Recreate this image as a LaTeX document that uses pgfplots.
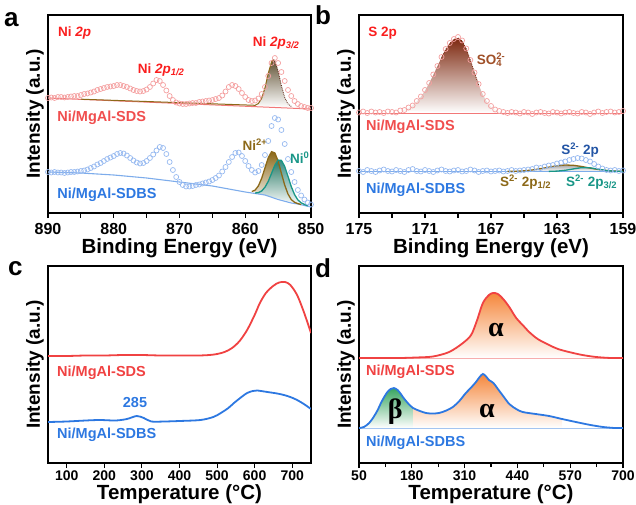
\documentclass[border=0pt]{standalone}
\usepackage{fontspec}
\setmainfont{Liberation Sans}
\newfontfamily\grfont{Liberation Serif}
\usepackage{pgfplots}
\pgfplotsset{compat=1.18}

\definecolor{sdsred}{RGB}{240,66,66}
\definecolor{sdslab}{RGB}{240,78,78}
\definecolor{nired}{RGB}{250,30,30}
\definecolor{sdsdot}{RGB}{244,160,160}
\definecolor{sdsbase}{RGB}{242,120,120}
\definecolor{sdbsblue}{RGB}{45,120,225}
\definecolor{sdbsdot}{RGB}{150,185,240}
\definecolor{sdbsbase}{RGB}{125,172,235}
\definecolor{olivec}{RGB}{140,105,25}
\definecolor{tealc}{RGB}{25,150,135}
\definecolor{darkbl}{RGB}{35,85,165}
\definecolor{so4}{RGB}{160,80,40}
\definecolor{so4fill}{RGB}{125,40,15}
\definecolor{nifill}{RGB}{95,80,50}
\definecolor{orfill}{RGB}{245,135,60}
\definecolor{grfill}{RGB}{55,165,95}

\newcommand{\fs}[1]{\bfseries\fontsize{#1}{#1}\selectfont}
\tikzset{lbl/.style={font=\fs{13.5}, inner sep=0pt}}

\pgfplotsset{
  panel/.style={
    scale only axis, ymin=0,
    axis line style={line width=1.3pt},
    ytick=\empty, xtick pos=left, xtick align=outside,
    major tick length=5pt, minor tick length=4pt,
    xtick style={draw=black, line width=1.1pt},
    minor x tick style={draw=black, line width=1.1pt},
    /pgf/number format/assume math mode=true,
    ylabel={Intensity (a.u.)},
    ylabel style={font=\fs{19}, inner sep=0pt, at={(axis description cs:-0.015,0.5)}, anchor=south},
    xlabel style={font=\fs{20.5}, at={(axis description cs:0.5,0)}, anchor=base},
  },
  % tick marks along the lower axis line
  tickrow/.style 2 args={after end axis/.append code={
    \foreach \t in {#1}{\draw[black, line width=1.1pt] (axis cs:\t,0) -- ++(0pt,-#2);}}},
}

\begin{document}
\begin{tikzpicture}
\path[use as bounding box] (0,0) rectangle (636pt,-505pt);

% ---------------- a : Ni 2p ----------------
\begin{axis}[panel, at={(48pt,-213pt)}, anchor=south west,
  width=263pt, height=198pt, ymax=198,
  xmin=850, xmax=890, x dir=reverse,
  xtick={850,860,870,880,890}, minor x tick num=1,
  tickrow={850,855,...,890}{5pt},
  xticklabel style={font=\fs{16}, anchor=base, yshift=-16pt},
  xlabel style={yshift=-40pt},
  xlabel={Binding Energy (eV)}]
% SDS fitted component
\addplot[draw=none, top color=nifill, bottom color=white] coordinates {
(858.5,107.7) (858,109.5) (857.5,114.7) (857,125.1) (856.5,139.6) (856,151.2) (855.7,153.4)
(855.5,152.4) (855,142) (854.5,127.2) (854,115.4) (853.5,109.1) (853,106.6) (852.5,105.6)} -- cycle;
\addplot[only marks, mark=o, mark size=2.5pt, color=sdsdot, mark options={line width=0.7pt}] coordinates {
(890,115) (889.5,115.5) (889,115) (888.5,116) (888,116) (887.5,115.5) (887,116) (886.5,116.5)
(886,117) (885.5,117) (885,118) (884.5,119) (884,119.5) (883.5,120.5) (883,121.5) (882.5,123)
(882,124) (881.5,125) (881,126) (880.5,126.5) (880,127) (879.5,128) (879,128) (878.5,127)
(878,126) (877.5,124.5) (877,123) (876.5,122) (876,121.5) (875.5,122) (875,123.5) (874.5,126)
(874,129.5) (873.5,133) (873,132) (872.5,128) (872,122.5) (871.5,117) (871,113) (870.5,110.5)
(870,109.5) (869.5,109) (869,109) (868.5,109.5) (868,110) (867.5,110) (867,111) (866.5,111.5)
(866,112) (865.5,112.5) (865,113) (864.5,114) (864,115) (863.5,117.5) (863,121.5) (862.5,126)
(862,128) (861.5,127) (861,124) (860.5,120) (860,116) (859.5,113) (859,112) (858.5,112.5)
(858,114.5) (857.5,119) (857,126) (856.5,137) (856,150) (855.5,155) (855,150) (854.5,141)
(854,132) (853.5,123) (853,117) (852.5,112) (852,109) (851.5,107) (851,106) (850.5,105) (850,105)};
\addplot[sdsbase, line width=1pt] coordinates {(890,115) (850,104)};
\addplot[olivec, line width=1pt] coordinates {(885,113.8) (858.5,107.7) (858,109.5) (857.5,114.7) (857,125.1) (856.5,139.6) (856,151.2) (855.7,153.4)};
\addplot[so4fill!70!black, line width=0.8pt, densely dotted] coordinates {(855.7,153.4) (855.5,152.4) (855,142) (854.5,127.2) (854,115.4) (853.5,109.1) (853,106.6)};
% SDBS fitted components
\addplot[draw=none, top color=olivec, bottom color=white] coordinates {
(859,21.5) (858.5,22.9) (858,27.1) (857.5,34.7) (857,45.1) (856.5,55.2) (856,61.25) (855.5,60.1)
(855,51.8) (854.5,39.7) (854,28) (853.5,19) (853,13.4) (852.5,10.7) (852,9.4) (851.5,8.5)} -- cycle;
\addplot[draw=none, top color=tealc!80!black, bottom color=white, fill opacity=0.85] coordinates {
(858.5,20) (858,20.4) (857.5,22) (857,25.8) (856.5,31.6) (856,39.7) (855.5,47.8) (855,52.9)
(854.5,52.6) (854,46.6) (853.5,36.7) (853,26.4) (852.5,18.4) (852,13.1) (851.5,10.2) (851,8.6) (850.5,7.1)} -- cycle;
\addplot[only marks, mark=o, mark size=2.5pt, color=sdbsdot, mark options={line width=0.7pt}] coordinates {
(890,41) (889.5,40.5) (889,41) (888.5,40.5) (888,40.5) (887.5,40) (887,40.5) (886.5,41)
(886,41) (885.5,41.5) (885,42) (884.5,42.5) (884,43.5) (883.5,45) (883,46.5) (882.5,48.5)
(882,50) (881.5,52) (881,54) (880.5,55.5) (880,57) (879.5,59) (879,60) (878.5,59.5)
(878,57.5) (877.5,55) (877,52.5) (876.5,50.5) (876,49.5) (875.5,50) (875,52) (874.5,55)
(874,58.5) (873.5,62.5) (873,66) (872.5,65) (872,59) (871.5,51) (871,43) (870.5,36)
(870,31) (869.5,28) (869,26.5) (868.5,26.5) (868,27) (867.5,28) (867,28.5) (866.5,29.5)
(866,30.5) (865.5,31.5) (865,33) (864.5,35) (864,37.5) (863.5,41.5) (863,46) (862.5,51)
(862,56) (861.5,60) (861,60.5) (860.5,57) (860,52) (859.5,47) (859,43) (858.5,40.5)
(858,42) (857.5,48) (857,58) (856.5,72) (856,87) (855.5,95) (855,93.5) (854.5,83)
(854,69) (853.5,54) (853,41) (852.5,31) (852,23) (851.5,17.5) (851,13.5) (850.5,10.5) (850,8.5)};
\addplot[sdbsbase, line width=1.1pt] coordinates {
(890,41) (885,40) (880,38) (875,35) (870,31) (865,27) (860,21) (857,18) (855,13.5) (853,10) (852,9) (850,6)};
\addplot[olivec, line width=1.3pt] coordinates {
(859,21.5) (858.5,22.9) (858,27.1) (857.5,34.7) (857,45.1) (856.5,55.2) (856,61.25) (855.5,60.1)
(855,51.8) (854.5,39.7) (854,28) (853.5,19) (853,13.4) (852.5,10.7) (852,9.4) (851.5,8.5)};
\addplot[tealc, line width=1.3pt] coordinates {
(858.5,20) (858,20.4) (857.5,22) (857,25.8) (856.5,31.6) (856,39.7) (855.5,47.8) (855,52.9)
(854.5,52.6) (854,46.6) (853.5,36.7) (853,26.4) (852.5,18.4) (852,13.1) (851.5,10.2) (851,8.6) (850.5,7.1)};
\node[lbl, nired, anchor=west] at (axis cs:888.5,180) {Ni {\itshape 2p}};
\node[lbl, nired] at (axis cs:872.8,143) {Ni {\itshape 2p}\textsubscript{\itshape 1/2}};
\node[lbl, nired] at (axis cs:855.3,170) {Ni {\itshape 2p}\textsubscript{\itshape 3/2}};
\node[lbl, sdslab, anchor=west, font=\fs{14.5}] at (axis cs:888.6,95) {Ni/MgAl-SDS};
\node[lbl, sdbsblue, anchor=west, font=\fs{14.5}] at (axis cs:888.6,18) {Ni/MgAl-SDBS};
\node[lbl, olivec] at (axis cs:858.5,68) {Ni\textsuperscript{2+}};
\node[lbl, tealc] at (axis cs:851.7,55) {Ni\textsuperscript{0}};
\end{axis}

% ---------------- b : S 2p ----------------
\begin{axis}[panel, at={(359pt,-213pt)}, anchor=south west,
  width=264pt, height=198pt, ymax=198,
  xmin=159, xmax=175, x dir=reverse,
  xtick={159,163,167,171,175}, minor x tick num=1,
  tickrow={159,161,...,175}{5pt},
  xticklabel style={font=\fs{16}, anchor=base, yshift=-16pt},
  xlabel style={yshift=-40pt},
  xlabel={Binding Energy (eV)}]
\addplot[draw=none, top color=so4fill, bottom color=white] coordinates {
(172.5,101.8) (172.25,103.1) (172,104.9) (171.75,107.6) (171.5,111.3) (171.25,116.2) (171,122.3)
(170.75,129.6) (170.5,138) (170.25,146.7) (170,155.4) (169.75,163.3) (169.5,169.5) (169.25,173.6)
(169,175) (168.75,172) (168.5,164) (168.25,152.7) (168,140.1) (167.75,128.2) (167.5,118.4)
(167.25,111.1) (167,106.2) (166.75,103.2) (166.5,101.5) (166.25,100.7) (166,100)} -- cycle;
\addplot[draw=none, top color=gray!70, bottom color=white] coordinates {
(166,41.6) (165.5,41.8) (165,42.2) (164.5,43) (164,44.3) (163.5,45.8) (163,47.3) (162.5,48)
(162,47.7) (161.5,46.5) (161,44.9) (160.5,43.5) (160,42.5) (159.5,41.9)} -- cycle;
\addplot[only marks, mark=o, mark size=2.5pt, color=sdsdot, mark options={line width=0.7pt}] coordinates {
(175,100.5) (174.75,101.5) (174.5,100) (174.25,101.5) (174,100.5) (173.75,101) (173.5,100) (173.25,101.5)
(173,101) (172.75,100.5) (172.5,102.5) (172.25,103) (172,105.5) (171.75,107.5) (171.5,112) (171.25,116.5)
(171,123) (170.75,130) (170.5,138.5) (170.25,147) (170,156) (169.75,164) (169.5,170) (169.25,174)
(169,176) (168.75,172.5) (168.5,164.5) (168.25,153) (168,140.5) (167.75,129) (167.5,119) (167.25,112)
(167,107) (166.75,103.5) (166.5,102) (166.25,101) (166,100) (165.75,101) (165.5,100.5) (165.25,99.5)
(165,101) (164.75,100.5) (164.5,99) (164.25,100.5) (164,101) (163.75,100) (163.5,99.5) (163.25,101)
(163,100.5) (162.75,99.5) (162.5,100.5) (162.25,101) (162,100) (161.75,99.5) (161.5,101) (161.25,100.5)
(161,99) (160.75,100.5) (160.5,101.5) (160.25,100) (160,101) (159.75,101.5) (159.5,100.5) (159.25,101) (159,102)};
\addplot[sdsbase, line width=1pt] coordinates {(175,100) (159,100)};
\addplot[so4fill, line width=0.9pt, densely dotted] coordinates {
(170,155.4) (169.75,163.3) (169.5,169.5) (169.25,173.6) (169,175) (168.75,172) (168.5,164) (168.25,152.7) (168,140.1) (167.75,128.2)};
\addplot[only marks, mark=o, mark size=2.5pt, color=sdbsdot, mark options={line width=0.7pt}] coordinates {
(175,42) (174.75,41) (174.5,43) (174.25,42) (174,41) (173.75,42.5) (173.5,43.5) (173.25,42)
(173,41.5) (172.75,43) (172.5,42) (172.25,41) (172,43) (171.75,44) (171.5,42) (171.25,41.5)
(171,43) (170.75,42) (170.5,41) (170.25,42.5) (170,43.5) (169.75,42) (169.5,41.5) (169.25,42.5)
(169,43) (168.75,41.5) (168.5,42) (168.25,43.5) (168,42.5) (167.75,41) (167.5,42) (167.25,42.5)
(167,41.5) (166.75,42) (166.5,42.5) (166.25,41.5) (166,42) (165.75,43) (165.5,42) (165.25,42.5)
(165,43) (164.75,43.5) (164.5,44) (164.25,45.5) (164,45) (163.75,46.5) (163.5,47.5) (163.25,48)
(163,49.5) (162.75,50.5) (162.5,51.5) (162.25,53) (162,54) (161.75,55) (161.5,54.5) (161.25,53)
(161,51.5) (160.75,49) (160.5,46.5) (160.25,44.5) (160,43) (159.75,42.5) (159.5,43) (159.25,42) (159,42.5)};
\addplot[sdbsbase, line width=1.3pt] coordinates {(175,41.5) (159,41.5)};
\addplot[olivec, line width=1.3pt] coordinates {
(166,41.6) (165.5,41.8) (165,42.2) (164.5,43) (164,44.3) (163.5,45.8) (163,47.3) (162.5,48)
(162,47.7) (161.5,46.5) (161,44.9) (160.5,43.5) (160,42.5) (159.5,41.9) (159,41.6)};
\addplot[tealc, line width=1.3pt] coordinates {
(163.5,41.6) (163,41.9) (162.5,42.7) (162,44.1) (161.5,45.4) (161,45.2) (160.5,43.85) (160,42.5) (159.5,41.8) (159,41.55)};
\node[lbl, nired, anchor=west] at (axis cs:174.45,180) {S 2p};
\node[lbl, so4] at (axis cs:167.0,153) {SO\rlap{\textsubscript{4}}\textsuperscript{2-}};
\node[lbl, sdslab, anchor=west, font=\fs{14.5}] at (axis cs:174.58,86) {Ni/MgAl-SDS};
\node[lbl, sdbsblue, anchor=west, font=\fs{14.5}] at (axis cs:174.58,23) {Ni/MgAl-SDBS};
\node[lbl, darkbl] at (axis cs:161.6,63) {S\textsuperscript{2-} 2p};
\node[lbl, olivec] at (axis cs:164.9,31) {S\textsuperscript{2-} 2p\textsubscript{1/2}};
\node[lbl, tealc] at (axis cs:160.9,31) {S\textsuperscript{2-} 2p\textsubscript{3/2}};
\end{axis}

% ---------------- c : TPR ----------------
\begin{axis}[panel, at={(48pt,-463pt)}, anchor=south west,
  width=263pt, height=197pt, ymax=197,
  xmin=50, xmax=750, xtick={100,200,300,400,500,600,700},
  tickrow={100,200,...,700}{5pt},
  xticklabel style={font=\fs{14}, anchor=base, yshift=-12pt},
  xlabel style={yshift=-36pt},
  xlabel={Temperature (°C)}]
\addplot[sdsred, line width=1.8pt, smooth] coordinates {
(50,107) (100,107) (150,107.5) (200,107.5) (250,108) (300,108) (350,107.5) (400,107.5) (450,107.5)
(480,108) (500,109) (520,111) (540,115) (560,122) (580,133) (600,148) (614,160) (630,170) (649,177)
(665,180.5) (681,181) (695,178) (713,168) (731,151) (750,130)};
\addplot[sdbsblue, line width=1.8pt, smooth] coordinates {
(50,41) (100,41.5) (150,42.5) (188,43) (230,42.5) (260,44) (286,47) (305,45) (325,41.5) (360,41.5)
(400,42) (456,43) (490,46) (510,50) (530,55) (545,60) (565,66) (580,70) (595,72) (607,72.5) (634,71)
(660,69.5) (678,68) (695,66) (713,63) (731,59) (750,54)};
\node[lbl, sdsred, anchor=west, font=\fs{14.5}] at (axis cs:74,90) {Ni/MgAl-SDS};
\node[lbl, sdbsblue, font=\fs{14.5}] at (axis cs:281.6,60) {285};
\node[lbl, sdbsblue, anchor=west, font=\fs{14.5}] at (axis cs:74,28) {Ni/MgAl-SDBS};
\end{axis}

% ---------------- d : TPD ----------------
\begin{axis}[panel, at={(359pt,-463pt)}, anchor=south west,
  width=264pt, height=197pt, ymax=197,
  xmin=50, xmax=700, xtick={50,180,310,440,570,700}, minor x tick num=1,
  tickrow={50,180,...,700}{5pt}, tickrow={115,245,...,635}{3.5pt},
  xticklabel style={font=\fs{14}, anchor=base, yshift=-12pt},
  xlabel style={yshift=-36pt},
  xlabel={Temperature (°C)}]
\addplot[draw=none, top color=orfill, bottom color=white] coordinates {
(190,105) (232,106.5) (272,111) (306,120) (326,128) (340,142) (355,160) (370,168) (380,170) (392,169)
(405,164) (420,156) (437,145) (453,138) (469,131) (490,124) (518,118) (540,114) (567,111) (600,108)
(634,106) (670,105)} -- cycle;
\addplot[draw=none, top color=grfill, bottom color=white] coordinates {
(50,35) (62,36) (75,40) (86,46) (96,53) (104,60) (112,66) (120,71) (128,74) (136,75) (145,73)
(153,69) (158,66) (170,60) (183,55) (183,35)} -- cycle;
\addplot[draw=none, top color=orfill, bottom color=white] coordinates {
(183,35) (183,55) (200,52) (215,50) (230,49.5) (247,50) (265,52.5) (281,56) (297,62) (313,70) (325,75)
(338,81) (347,86) (355,89) (362,87) (370,83) (381,80) (392,74) (405,67) (420,59) (437,54) (453,51)
(485,49) (518,47) (550,44) (550,35)} -- cycle;
\addplot[sdsbase!60, line width=1pt] coordinates {(50,105) (700,105)};
\addplot[sdbsbase!70, line width=1pt] coordinates {(50,35) (700,35)};
\addplot[sdsred, line width=1.8pt, smooth] coordinates {
(50,105) (100,105) (150,105) (190,105.5) (232,106.5) (272,111) (306,120) (326,128) (340,142) (355,160)
(370,168) (380,170) (392,169) (405,164) (420,156) (437,145) (453,138) (469,131) (490,124) (518,118)
(540,114) (567,111) (600,108) (634,106) (670,105) (700,105)};
\addplot[sdbsblue, line width=1.8pt, smooth] coordinates {
(50,35) (62,36) (75,40) (86,46) (96,53) (104,60) (112,66) (120,71) (128,74) (136,75) (145,73)
(153,69) (158,66) (170,60) (183,55) (200,52) (215,50) (230,49.5) (247,50) (265,52.5) (281,56)
(297,62) (313,70) (325,75) (338,81) (347,86) (355,89) (362,87) (370,83) (381,80) (392,74) (405,67)
(420,59) (437,54) (453,51) (485,49) (518,47) (550,44) (584,41) (620,38) (651,36) (680,35) (700,35)};
\node[lbl, sdsred, anchor=west, font=\fs{14.5}] at (axis cs:67,91) {Ni/MgAl-SDS};
\node[lbl, sdbsblue, anchor=west, font=\fs{14.5}] at (axis cs:67,20) {Ni/MgAl-SDBS};
\node[inner sep=0pt, font=\grfont\bfseries\fontsize{28}{28}\selectfont] at (axis cs:387,133) {α};
\node[inner sep=0pt, font=\grfont\bfseries\fontsize{28}{28}\selectfont] at (axis cs:365,52) {α};
\node[inner sep=0pt, font=\grfont\bfseries\fontsize{28}{28}\selectfont] at (axis cs:139,51) {β};
\end{axis}

% panel letters
\node[anchor=base west, inner sep=0pt, font=\fs{26}] at (4pt,-27pt) {a};
\node[anchor=base west, inner sep=0pt, font=\fs{26}] at (315pt,-25pt) {b};
\node[anchor=base west, inner sep=0pt, font=\fs{26}] at (8pt,-275pt) {c};
\node[anchor=base west, inner sep=0pt, font=\fs{26}] at (315pt,-277pt) {d};
\end{tikzpicture}
\end{document}
